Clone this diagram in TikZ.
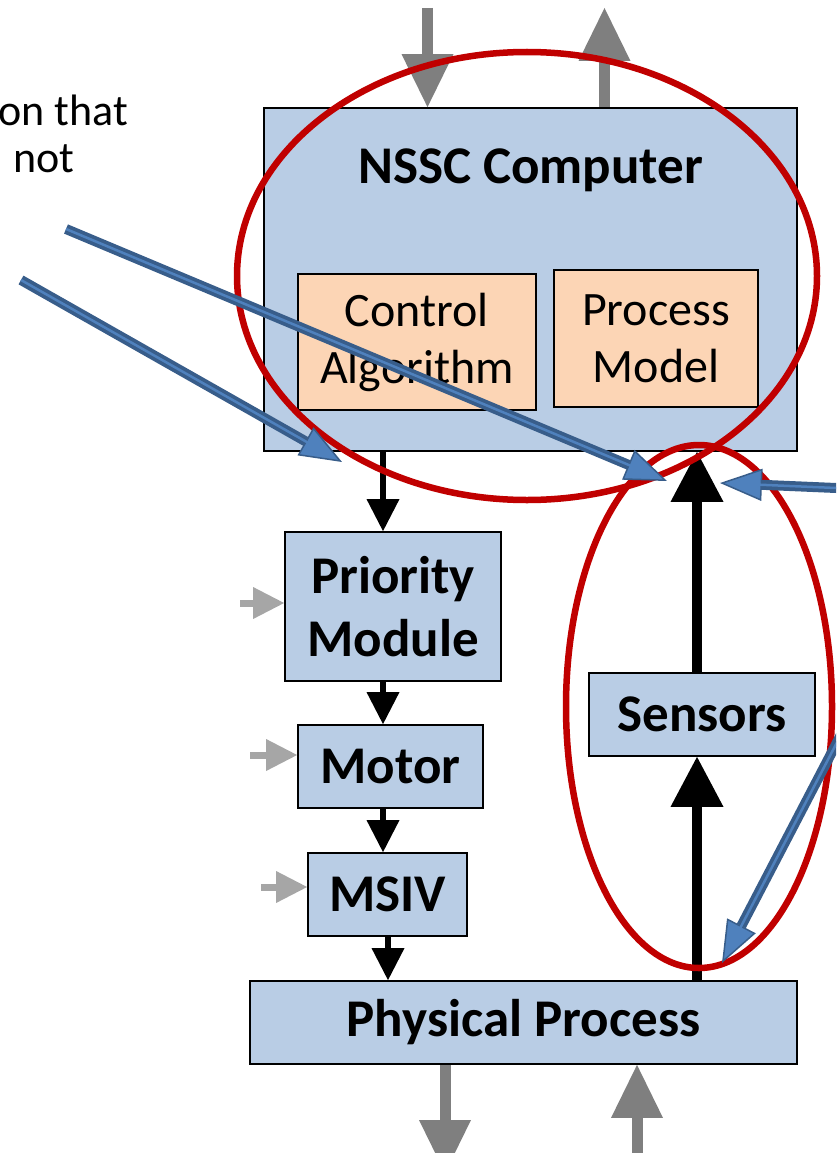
\documentclass[tikz,border=0pt]{standalone}
\usepackage{fontspec}
\setmainfont{Carlito}
\usetikzlibrary{arrows.meta,calc,shapes.geometric}
\definecolor{boxblue}{HTML}{B9CDE5}
\definecolor{boxorange}{HTML}{FCD5B5}
\definecolor{redc}{HTML}{C00000}
\definecolor{gdark}{HTML}{7F7F7F}
\definecolor{glight}{HTML}{A6A6A6}
\definecolor{bdark}{HTML}{385D8A}
\definecolor{blight}{HTML}{4F81BD}
\begin{document}
\begin{tikzpicture}[x=1pt,y=-1pt,
  box/.style={draw=black, line width=1.8pt, fill=boxblue, inner sep=0pt, align=center, font=\fontsize{53}{63}\selectfont\bfseries},
  subbox/.style={draw=black, line width=1.8pt, fill=boxorange, inner sep=0pt, align=center, font=\fontsize{48}{57}\selectfont},
  blk/.style={draw=black, line width=5.5pt, -{Triangle[length=32pt,width=33pt,line width=0pt]}},
  blkbig/.style={draw=black, line width=10pt, -{Triangle[length=50pt,width=53pt,line width=0pt]}},
  gbig/.style={draw=gdark, line width=11pt, -{Triangle[length=53pt,width=52pt,line width=0pt]}},
  gsmall/.style={draw=glight, line width=7pt, -{Triangle[length=31pt,width=32pt,line width=0pt]}},
  ring/.style={draw=redc, line width=6.5pt, ellipse, inner sep=0pt, fill=none},
  bshaft/.style={draw=bdark, line width=10pt, -{Triangle[length=42pt,width=32pt,fill=blight,line width=1.5pt]}},
  bstripe/.style={draw=blight, line width=2.5pt, shorten >=40pt},
]
\useasboundingbox (0,0) rectangle (836,1153);
\clip (0,0) rectangle (836,1153);

% text at top left
\node[anchor=base east, inner sep=0pt, font=\fontsize{44}{47}\selectfont] (txtA) at (128,125) {on that};
\node[anchor=base west, inner sep=0pt, font=\fontsize{44}{47}\selectfont] (txtB) at (13,172) {not};

% boxes
\node[box, minimum width=533pt, minimum height=343pt] (nssc) at (530.5,279.5) {};
\node[anchor=base, inner sep=0pt, font=\fontsize{53}{63}\selectfont\bfseries] (nsscT) at (530.5,183) {NSSC Computer};
\node[subbox, minimum width=238pt, minimum height=136pt] (ctrl) at (417,342) {Control\\Algorithm};
\node[subbox, minimum width=204pt, minimum height=137pt] (pmodel) at (656,338.5) {Process\\Model};
\node[box, minimum width=216pt, minimum height=149pt] (prio) at (393,606.5) {Priority\\Module};
\node[box, minimum width=185pt, minimum height=83pt] (motor) at (390.5,766.5) {Motor};
\node[box, minimum width=159pt, minimum height=83pt] (msiv) at (387.5,894.5) {MSIV};
\node[box, minimum width=547pt, minimum height=83pt] (phys) at (523.5,1022.5) {Physical Process};
\node[box, minimum width=226pt, minimum height=83pt] (sens) at (702,714.5) {Sensors};

% black arrows
\coordinate (colA) at (383,0);
\coordinate (colB) at (388,0);
\coordinate (colS) at (697,0);
\draw[blk] (nssc.south -| colA) -- (prio.north -| colA);
\draw[blk] (prio.south -| colA) -- (motor.north -| colA);
\draw[blk] (motor.south -| colA) -- (msiv.north -| colA);
\draw[blk] (msiv.south -| colB) -- (phys.north -| colB);
\draw[blkbig] (phys.north -| colS) -- (sens.south -| colS);
\draw[blkbig] (sens.north -| colS) -- (nssc.south -| colS);

% gray arrows
\coordinate (topIn) at (427.5,8);
\coordinate (topOut) at (604.5,8);
\coordinate (botOut) at (445,1173);
\coordinate (botIn) at (637,1160);
\draw[gbig] (topIn) -- (nssc.north -| topIn);
\draw[gbig] (nssc.north -| topOut) -- (topOut);
\draw[gbig] (phys.south -| botOut) -- (botOut);
\draw[gbig] (botIn) -- (phys.south -| botIn);

\coordinate (pIn) at (240,603);
\coordinate (mIn) at (250,755);
\coordinate (vIn) at (261,887);
\draw[gsmall] (pIn) -- (pIn -| prio.west);
\draw[gsmall] (mIn) -- (mIn -| motor.west);
\draw[gsmall] (vIn) -- (vIn -| msiv.west);

% red ellipses
\node[ring, minimum width=580pt, minimum height=448pt] (ringA) at (527,276) {};
\node[ring, minimum width=266pt, minimum height=523pt] (ringB) at (699,706.5) {};

% blue arrows
\coordinate (b1s) at (66,229);  \coordinate (b1e) at (667,481);
\coordinate (b2s) at (21,280);  \coordinate (b2e) at (342,462);
\coordinate (b3s) at (850,488.6); \coordinate (b3e) at (720,483);
\coordinate (b4s) at (845,727); \coordinate (b4e) at (722,963);
\foreach \s/\e in {b1s/b1e,b2s/b2e,b3s/b3e,b4s/b4e}{
  \draw[bshaft] (\s) -- (\e);
  \draw[bstripe] (\s) -- (\e);
}
\end{tikzpicture}
\end{document}
